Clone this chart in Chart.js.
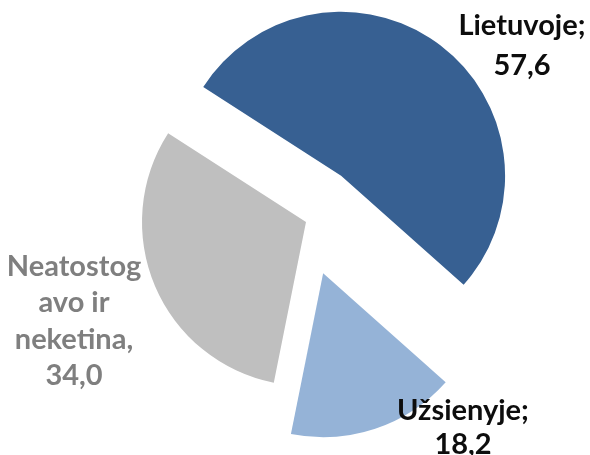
<!DOCTYPE html>
<html>
<head>
<meta charset="utf-8">
<script src="https://cdn.jsdelivr.net/npm/chart.js@4.4.1/dist/chart.umd.min.js"></script>
<style>
  html, body { margin: 0; padding: 0; background: #ffffff; }
  #wrap { position: relative; width: 590px; height: 455px; }
</style>
</head>
<body>
<div id="wrap"><canvas id="pieChart" width="590" height="455"></canvas></div>
<script>
// Data
const categories = ['Lietuvoje', 'Užsienyje', 'Neatostogavo ir neketina'];
const values = [57.6, 18.2, 34.0];
const separators = [';', ';', ','];
// how each label is broken into lines (text only)
const nameLines = [['Lietuvoje'], ['Užsienyje'], ['Neatostog', 'avo ir', 'neketina']];

const COLORS = ['#376092', '#95b3d7', '#bfbfbf'];
const LABEL_COLORS = ['#0d0d0d', '#0d0d0d', '#7f7f7f'];
// explode distance per slice (px)
const EXPLODE = [58, 54, 0];
// label text anchors: centre x, first baseline, line height
const LABEL_POS = [
  { x: 522, y: 35, lh: 40 },
  { x: 463, y: 420, lh: 34 },
  { x: 74, y: 276, lh: 36.3 }
];
const FONT = 'bold 29px Lato, "Open Sans", sans-serif';

function formatValue(v) {
  return v.toFixed(1).replace('.', ',');
}

// Draw slices shifted along their bisector (exploded pie)
const explodePlugin = {
  id: 'explode',
  beforeDatasetDraw(chart, args) {
    const ctx = chart.ctx;
    const meta = args.meta;
    meta.data.forEach((arc, i) => {
      const mid = (arc.startAngle + arc.endAngle) / 2;
      ctx.save();
      ctx.translate(Math.cos(mid) * EXPLODE[i], Math.sin(mid) * EXPLODE[i]);
      arc.draw(ctx);
      ctx.restore();
    });
    return false;
  }
};

// Data labels
const labelPlugin = {
  id: 'sliceLabels',
  afterDraw(chart) {
    const ctx = chart.ctx;
    ctx.save();
    ctx.font = FONT;
    ctx.textAlign = 'center';
    ctx.textBaseline = 'alphabetic';
    categories.forEach((c, i) => {
      const lines = nameLines[i].slice();
      lines[lines.length - 1] += separators[i];
      lines.push(formatValue(values[i]));
      const p = LABEL_POS[i];
      ctx.fillStyle = LABEL_COLORS[i];
      lines.forEach((t, j) => ctx.fillText(t, p.x, p.y + j * p.lh));
    });
    ctx.restore();
  }
};

new Chart(document.getElementById('pieChart'), {
  type: 'pie',
  data: {
    labels: categories,
    datasets: [{
      data: values,
      backgroundColor: COLORS,
      borderWidth: 0
    }]
  },
  options: {
    responsive: false,
    animation: false,
    rotation: -57.2,
    radius: 164,
    layout: { padding: { left: 22, right: 0, top: 0, bottom: 11 } },
    plugins: {
      legend: { display: false },
      tooltip: { enabled: false }
    }
  },
  plugins: [explodePlugin, labelPlugin]
});
</script>
</body>
</html>
